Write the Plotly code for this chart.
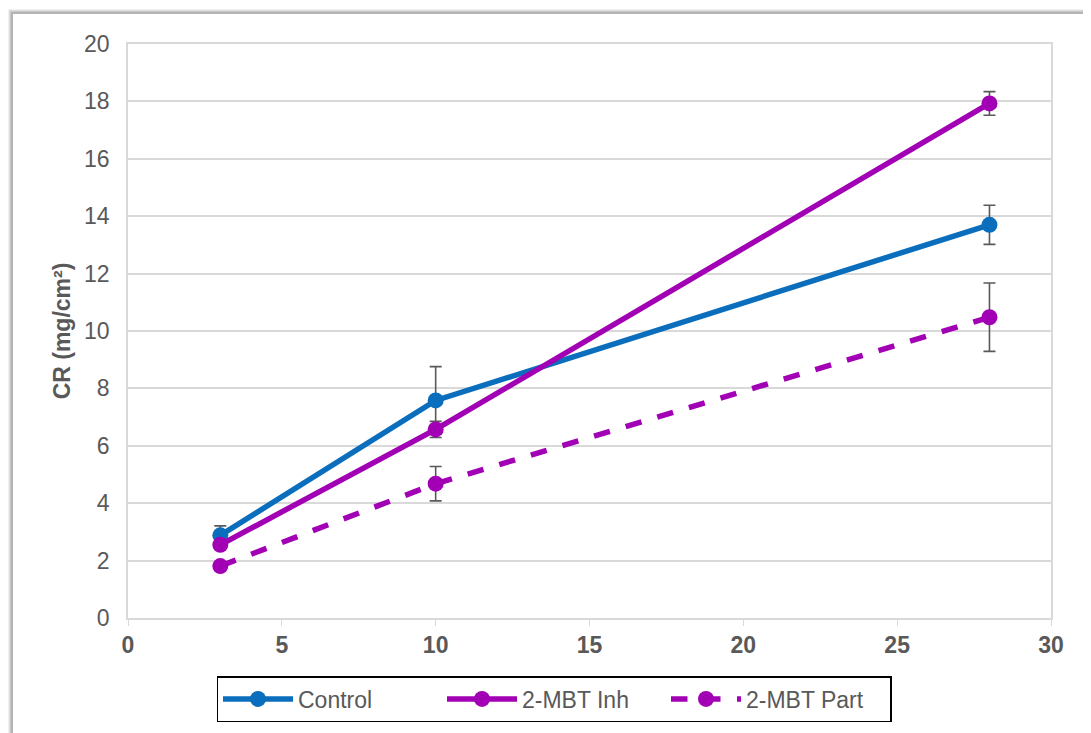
import plotly.graph_objects as go

days = [3, 10, 28]
control = [2.88, 7.58, 13.70]
control_err = [0.33, 1.18, 0.68]
inh = [2.55, 6.57, 17.93]
inh_err = [0.10, 0.28, 0.41]
part = [1.81, 4.68, 10.48]
part_err = [0.05, 0.6, 1.19]

blue = "#0A6EBD"
purple = "#A200B4"
grey = "#595959"
FONT = "Liberation Sans, Arial, sans-serif"

fig = go.Figure()

def add(name, y, err, color, dash):
    fig.add_trace(go.Scatter(
        x=days, y=y, name=name, mode="lines+markers",
        line=dict(color=color, width=5.5, dash=dash),
        marker=dict(color=color, size=16),
        error_y=dict(type="data", array=err, visible=True, color=grey, thickness=1.6, width=6),
    ))

add("Control", control, control_err, blue, "solid")
add("2-MBT Inh", inh, inh_err, purple, "solid")
add("2-MBT Part", part, part_err, purple, "dash")

# page has an 8px body margin; compensate
W, H = 1083, 725
L, T, R, B = 120, 36, 40, 114
PW, PH = W - L - R, H - T - B

fig.update_layout(
    width=W, height=H,
    margin=dict(l=L, r=R, t=T, b=B),
    paper_bgcolor="white", plot_bgcolor="white",
    font=dict(family=FONT, size=23, color=grey),
    showlegend=True,
    legend=dict(
        orientation="h", x=(554 - 128) / PW, xanchor="center",
        y=(619 - 676) / PH, yanchor="top",
        bordercolor="black", borderwidth=1.5, font=dict(size=23, color=grey, family=FONT),
        itemwidth=70, entrywidth=139, tracegroupgap=0,
    ),
    xaxis=dict(
        range=[0, 30], tickvals=[0, 5, 10, 15, 20, 25, 30],
        showgrid=False, zeroline=False, showline=True, linecolor="#d9d9d9", linewidth=1.5,
        mirror=True, ticks="outside", ticklen=6, tickcolor="#d9d9d9",
        tickfont=dict(size=23, color=grey, family=FONT, weight="bold"),
    ),
    yaxis=dict(
        range=[0, 20], dtick=2, showgrid=True, gridcolor="#d9d9d9", gridwidth=1.5,
        zeroline=False, showline=True, linecolor="#d9d9d9", linewidth=1.5, mirror=True,
        tickfont=dict(size=23, color=grey, family=FONT),
        ticklabelstandoff=12,
        title=dict(text="<b>CR (mg/cm²)</b>", font=dict(size=23, color=grey, family=FONT), standoff=7),
    ),
)

# outer chart frame with soft shadow (page coords -> paper coords)
def px(xp):
    return (xp - 128) / PW

def py(yp):
    return (619 - yp) / PH

for i, c in enumerate(["#f0f0f0", "#dedede", "#c8c8c8", "#b4b4b4"]):
    off = 4 - i
    fig.add_shape(type="rect", xref="paper", yref="paper",
                  x0=px(13 - off), x1=px(1100),
                  y0=py(745), y1=py(14 - off),
                  line=dict(color=c, width=2), fillcolor="rgba(0,0,0,0)", layer="below")

fig.write_html("out.html")
